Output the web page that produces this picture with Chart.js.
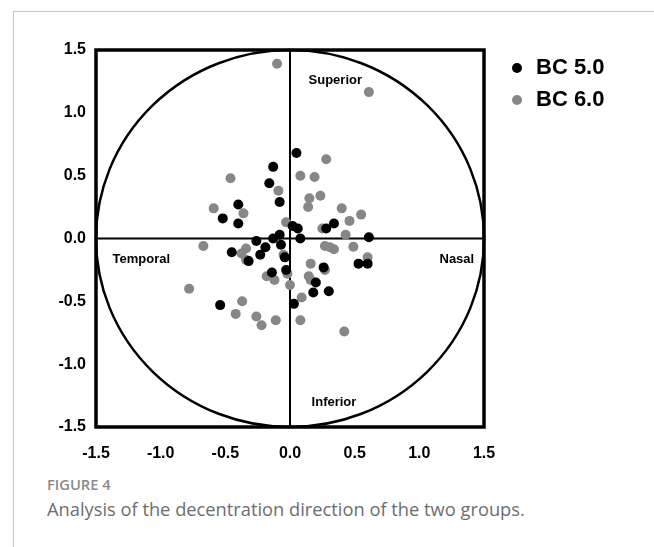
<!DOCTYPE html>
<html>
<head>
<meta charset="utf-8">
<script src="https://cdn.jsdelivr.net/npm/chart.js@4.4.1/dist/chart.umd.min.js"></script>
<style>
  html, body { margin: 0; padding: 0; background: #fff; }
  body { width: 654px; height: 547px; position: relative; overflow: hidden; }
  .frame { position: absolute; left: 13px; top: 11px; right: 0; bottom: 0; border-left: 1px solid #c4c4c4; border-top: 1px solid #c4c4c4; }
  .plot { position: absolute; left: 0; top: 0; width: 654px; height: 470px; }
  .legend { position: absolute; left: 512px; top: 54px; }
  .legend div { height: 32px; line-height: 32px; font: bold 22px 'Liberation Sans', Arial, sans-serif; color: #000; white-space: nowrap; }
  .legend span { display: inline-block; width: 10px; height: 10px; border-radius: 50%; margin-right: 14px; vertical-align: 1px; }
  .fig { position: absolute; left: 47px; top: 474px; font: 600 14.7px 'Open Sans', sans-serif; color: #8a8a8a; white-space: nowrap; }
  .cap { position: absolute; left: 47px; top: 496px; font: 400 18.3px 'Open Sans', sans-serif; color: #6d6d6d; white-space: nowrap; }
</style>
</head>
<body>
<div class="frame"></div>
<div class="plot"><canvas id="chart"></canvas></div>
<div class="legend" id="legend"></div>
<div class="fig">FIGURE 4</div>
<div class="cap">Analysis of the decentration direction of the two groups.</div>
<script>
// 두 군의 편심 방향 산점도
const FONT = "'Liberation Sans', Arial, sans-serif";
const COLORS = { bc50: '#000000', bc60: '#878787', line: '#000000' };

const seriesNames = ['BC 5.0', 'BC 6.0'];
const axisTicks = [-1.5, -1.0, -0.5, 0.0, 0.5, 1.0, 1.5];

// BC 5.0 (검정)
const bc50X = [0.05, -0.13, -0.16, -0.08, -0.40, -0.52, -0.40, 0.02, 0.06, 0.28, 0.34, 0.61, 0.08, -0.08, -0.13, -0.26,
  -0.07, -0.45, -0.32, -0.23, -0.19, -0.04, -0.03, -0.14, 0.26, 0.53, 0.60, 0.20, 0.18, 0.30, 0.03, -0.54];
const bc50Y = [0.68, 0.57, 0.44, 0.29, 0.27, 0.16, 0.12, 0.10, 0.08, 0.08, 0.12, 0.01, 0.00, 0.03, 0.00, -0.02,
  -0.05, -0.11, -0.18, -0.13, -0.07, -0.15, -0.25, -0.27, -0.23, -0.20, -0.20, -0.35, -0.43, -0.42, -0.52, -0.53];

// BC 6.0 (회색)
const bc60X = [-0.10, 0.61, 0.28, -0.46, 0.08, 0.19, -0.09, 0.15, 0.235, 0.14, -0.59, -0.36, 0.40, 0.55, 0.46, -0.03,
  0.25, 0.43, -0.67, -0.34, -0.375, -0.34, -0.05, 0.27, 0.31, 0.34, 0.49, 0.60, 0.16, 0.27, -0.18, -0.12, -0.02,
  0.145, 0.16, 0.00, -0.78, 0.09, -0.37, -0.42, -0.26, -0.22, -0.11, 0.08, 0.42];
const bc60Y = [1.39, 1.165, 0.63, 0.48, 0.50, 0.49, 0.38, 0.32, 0.34, 0.25, 0.24, 0.20, 0.24, 0.19, 0.14, 0.13,
  0.08, 0.03, -0.06, -0.08, -0.12, -0.17, -0.13, -0.06, -0.07, -0.085, -0.065, -0.15, -0.20, -0.25, -0.30, -0.33, -0.28,
  -0.30, -0.33, -0.37, -0.40, -0.47, -0.50, -0.60, -0.62, -0.69, -0.65, -0.65, -0.74];

// 방향 표시 (데이터 좌표)
const directionNames = ['Superior', 'Temporal', 'Nasal', 'Inferior'];
const directionX = [0.35, -1.15, 1.29, 0.34];
const directionY = [1.255, -0.165, -0.165, -1.305];

const toPoints = (xs, ys) => xs.map((x, i) => ({ x, y: ys[i] }));

// 원, 십자선, 외곽 프레임, 방향 라벨
const polarGuide = {
  id: 'polarGuide',
  beforeDatasetsDraw(chart) {
    const { ctx, chartArea: a, scales: { x, y } } = chart;
    const cx = x.getPixelForValue(0);
    const cy = y.getPixelForValue(0);
    ctx.save();
    ctx.strokeStyle = COLORS.line;
    ctx.lineWidth = 2.5;
    ctx.beginPath();
    ctx.ellipse(cx, cy, x.getPixelForValue(1.5) - cx, cy - y.getPixelForValue(1.5), 0, 0, Math.PI * 2);
    ctx.stroke();
    ctx.lineWidth = 2;
    ctx.beginPath();
    ctx.moveTo(cx, a.top); ctx.lineTo(cx, a.bottom);
    ctx.moveTo(a.left, cy); ctx.lineTo(a.right, cy);
    ctx.stroke();
    ctx.fillStyle = '#000';
    ctx.font = 'bold 13px ' + FONT;
    ctx.textAlign = 'center';
    ctx.textBaseline = 'middle';
    directionNames.forEach((t, i) => {
      ctx.fillText(t, x.getPixelForValue(directionX[i]), y.getPixelForValue(directionY[i]));
    });
    ctx.restore();
  },
  afterDatasetsDraw(chart) {
    const { ctx, chartArea: a } = chart;
    ctx.save();
    ctx.strokeStyle = COLORS.line;
    ctx.lineWidth = 3.5;
    ctx.strokeRect(a.left, a.top, a.right - a.left, a.bottom - a.top);
    ctx.restore();
  },
};

const tickOpts = {
  min: -1.5,
  max: 1.5,
  afterBuildTicks: (s) => { s.ticks = axisTicks.map((v) => ({ value: v })); },
  grid: { display: false, drawTicks: false },
  border: { display: false },
};

const chart = new Chart(document.getElementById('chart'), {
  type: 'scatter',
  data: {
    datasets: [
      { label: seriesNames[0], data: toPoints(bc50X, bc50Y), backgroundColor: COLORS.bc50, borderWidth: 0, pointRadius: 5 },
      { label: seriesNames[1], data: toPoints(bc60X, bc60Y), backgroundColor: COLORS.bc60, borderWidth: 0, pointRadius: 5 },
    ],
  },
  options: {
    responsive: true,
    maintainAspectRatio: false,
    animation: false,
    layout: { padding: { top: 50, right: 170, bottom: 0, left: 0 } },
    plugins: {
      tooltip: { enabled: false },
      legend: { display: false },
    },
    scales: {
      x: {
        ...tickOpts,
        afterFit: (s) => { s.height = 43; },
        ticks: { padding: 17, color: '#000', font: { family: FONT, size: 16, weight: 'bold' }, callback: (v) => v.toFixed(1) },
      },
      y: {
        ...tickOpts,
        afterFit: (s) => { s.width = 96; },
        ticks: { padding: 10, color: '#000', font: { family: FONT, size: 16, weight: 'bold', lineHeight: 0.5 }, callback: (v) => v.toFixed(1) },
      },
    },
  },
  plugins: [polarGuide],
});

// 범례 (HTML)
const legendEl = document.getElementById('legend');
chart.data.datasets.forEach((ds) => {
  const row = document.createElement('div');
  const dot = document.createElement('span');
  dot.style.background = ds.backgroundColor;
  row.appendChild(dot);
  row.appendChild(document.createTextNode(ds.label));
  legendEl.appendChild(row);
});
</script>
</body>
</html>
